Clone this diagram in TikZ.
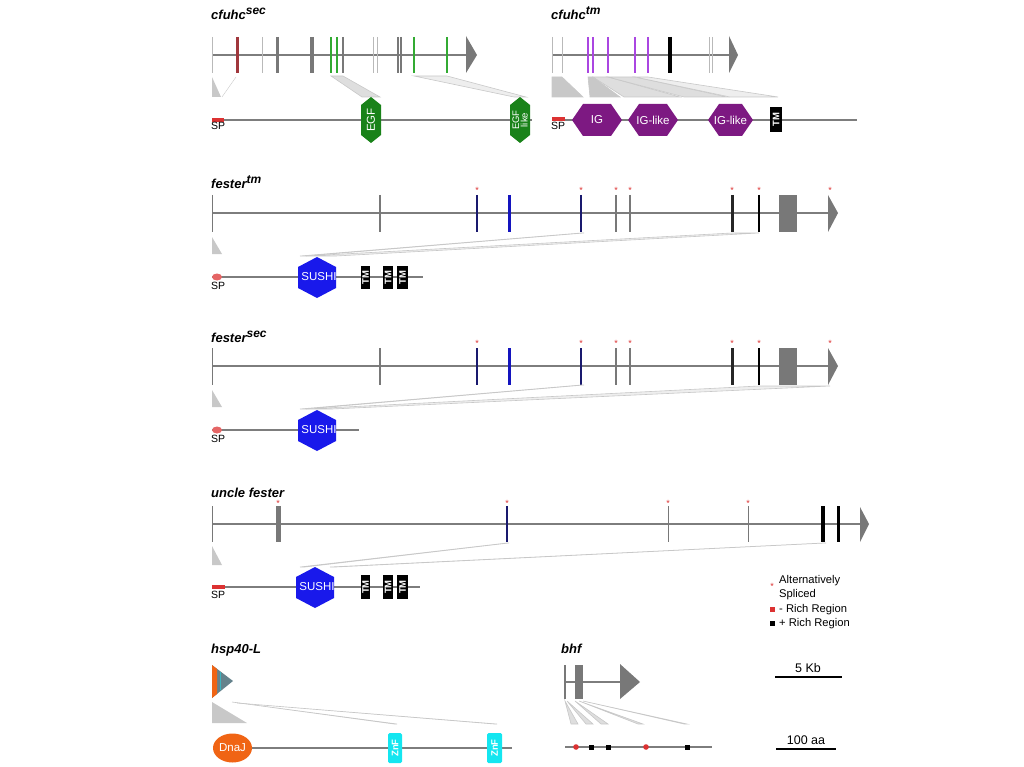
\documentclass[tikz,border=0pt]{standalone}
\usepackage{fontspec}
\setmainfont{Liberation Sans}
\usetikzlibrary{calc}

\definecolor{gline}{RGB}{125,125,125}
\definecolor{exgray}{RGB}{120,120,120}
\definecolor{exlight}{RGB}{185,185,185}
\definecolor{exred}{RGB}{160,55,60}
\definecolor{exgreen}{RGB}{50,170,50}
\definecolor{expurple}{RGB}{170,70,225}
\definecolor{exnavy}{RGB}{25,25,110}
\definecolor{exblue}{RGB}{20,20,190}
\definecolor{fangray}{RGB}{200,200,200}
\definecolor{egfgreen}{RGB}{25,130,25}
\definecolor{igpurple}{RGB}{125,25,130}
\definecolor{sushiblue}{RGB}{25,25,235}
\definecolor{dnajorange}{RGB}{240,100,20}
\definecolor{znfcyan}{RGB}{20,230,240}
\definecolor{spred}{RGB}{220,50,50}
\definecolor{hspslate}{RGB}{100,130,140}

\newcommand{\gsup}[1]{\raisebox{5pt}{\fontsize{12}{12}\selectfont #1}}

\begin{document}
\begin{tikzpicture}[x=1pt,y=-1pt,
  gene/.style={gline,line width=1.2pt},
  prot/.style={gline,line width=2.2pt},
  fan/.style={fill=fangray!60,draw=fangray,line width=0.6pt},
  genename/.style={font=\fontsize{13}{14}\bfseries\itshape\selectfont,anchor=base west,inner sep=0},
  spl/.style={font=\fontsize{10.5}{11}\selectfont,inner sep=0},
  dom/.style={font=\fontsize{11.5}{12}\selectfont,text=white,inner sep=0},
  tmtxt/.style={font=\fontsize{9.5}{10}\bfseries\selectfont,text=white,inner sep=0,rotate=90},
  alt/.style={font=\fontsize{9}{9}\selectfont,text=spred,inner sep=0},
  legtxt/.style={font=\fontsize{11.2}{12}\selectfont,anchor=west,inner sep=0},
  scaletxt/.style={font=\fontsize{12.5}{13}\selectfont,inner sep=0}]
\useasboundingbox (0,0) rectangle (1024,767);

% cfuhc sec
\node[genename] (csec) at (211,20) {cfuhc\gsup{sec}};
\draw[gene] (212,55) -- (466,55);
\foreach \x/\c/\w in {212/exlight/1, 237/exred/3, 262/exlight/1, 277/exgray/3, 312/exgray/4,
  331/exgreen/2, 337/exgreen/2, 343/exgray/2, 373/exlight/1, 377/exlight/1,
  398/exgray/2, 401/exgray/2, 414/exgreen/2, 447/exgreen/2}
  \draw[\c,line width=\w pt] (\x,37) -- (\x,73);
\fill[exgray] (466,36) -- (477,55) -- (466,73) -- cycle;
\fill[fangray] (212,77) -- (212,97) -- (221,97) -- cycle;
\draw[fangray] (236,77) -- (222,97);
\filldraw[fan] (331,76) -- (343,76) -- (380,97) -- (362,97) -- cycle;
\filldraw[fan,fill=fangray!30] (414,76) -- (447,76) -- (526,97) -- (514,97) -- cycle;
\draw[prot] (212,120) -- (532,120);
\fill[spred] (212,118) rectangle (224,122);
\node[spl] (spa) at (218,126) {SP};
\fill[egfgreen] (371,97) -- ++(10,8) -- ++(0,30) -- ++(-10,8) -- ++(-10,-8) -- ++(0,-30) -- cycle;
\node[dom,rotate=90] (egf) at (371,120) {EGF};
\fill[egfgreen] (520,97) -- ++(10,8) -- ++(0,30) -- ++(-10,8) -- ++(-10,-8) -- ++(0,-30) -- cycle;
\node[dom,rotate=90,align=center,font=\fontsize{9.5}{8.5}\selectfont] (egfl) at (520,120) {EGF\\like};

% cfuhc tm
\node[genename] (ctm) at (551,20) {cfuhc\gsup{tm}};
\draw[gene] (552,55) -- (729,55);
\foreach \x/\c/\w in {552/exlight/1, 562/exlight/1, 588/expurple/2, 593/expurple/2, 608/expurple/2.5,
  635/expurple/2, 648/expurple/2, 670/black/3.5, 709/exlight/1, 712/exlight/1}
  \draw[\c,line width=\w pt] (\x,37) -- (\x,73);
\fill[exgray] (729,36) -- (738,55) -- (729,73) -- cycle;
\filldraw[fan,fill=fangray] (552,77) -- (562,77) -- (583,97) -- (552,97) -- cycle;
\filldraw[fan,fill=fangray] (588,77) -- (593,77) -- (620,97) -- (590,97) -- cycle;
\filldraw[fan] (593,77) -- (608,77) -- (680,97) -- (624,97) -- cycle;
\filldraw[fan] (608,77) -- (635,77) -- (727,97) -- (684,97) -- cycle;
\filldraw[fan,fill=fangray!30] (635,77) -- (648,77) -- (778,97) -- (730,97) -- cycle;
\draw[prot] (552,120) -- (857,120);
\fill[spred] (552,117) rectangle (565,121);
\node[spl] (spb) at (558,126) {SP};
\foreach \l/\w in {572/50, 628/50, 708/45}
  \fill[igpurple] (\l,120) -- ++(11,-16) -- ++(\w-22,0) -- ++(11,16) -- ++(-11,16) -- ++(22-\w,0) -- cycle;
\node[dom] (ig) at (597,120) {IG};
\node[dom] (iglikea) at (653,120) {IG-like};
\node[dom] (iglikeb) at (730.5,120) {IG-like};
\fill[black] (770,107) rectangle (782,132);
\node[tmtxt] (tma) at (776,119.5) {TM};

% fester tm and fester sec gene models
\node[genename] (ftm) at (211,189) {fester\gsup{tm}};
\node[genename] (fsec) at (211,342) {fester\gsup{sec}};
\foreach \dy in {0,153} {
  \begin{scope}[shift={(0,\dy)}]
  \draw[gene] (212,213) -- (828,213);
  \foreach \x/\c/\w in {212/exgray/1, 380/exgray/1.5, 477/exnavy/2, 509/exblue/3, 581/exnavy/2,
    616/exgray/2, 630/exgray/2, 732/black!85/3, 759/black/2.5}
    \draw[\c,line width=\w pt] (\x,195) -- (\x,232);
  \fill[exgray] (779,195) rectangle (797,232);
  \fill[exgray] (828,195) -- (838,213) -- (828,232) -- cycle;
  \foreach \x in {477,581,616,630,732,759,830}
    \node[alt] (ast\dy-\x) at (\x,190) {*};
  \fill[fangray] (212,237) -- (212,254) -- (222,254) -- cycle;
  \end{scope}
}
\filldraw[fan] (300,256) -- (581,233) -- (584,233) -- (306,256) -- cycle;
\filldraw[fan,fill=fangray!30] (306,256) -- (732,233) -- (759,233) -- (336,256) -- cycle;
\draw[prot] (212,277) -- (423,277);
\fill[spred!75] (217,277) ellipse (5 and 3.5);
\node[spl] (spc) at (218,286) {SP};
\fill[sushiblue] (317,257) -- ++(19,10) -- ++(0,21) -- ++(-19,10) -- ++(-19,-10) -- ++(0,-21) -- cycle;
\node[dom] (sushia) at (319,277) {SUSHI};
\foreach \l/\r in {361/370, 383/393, 397/408} {
  \fill[black] (\l,266) rectangle (\r,289);
  \node[tmtxt] (tmb\l) at ({(\l+\r)/2},277.5) {TM};
}
\filldraw[fan] (300,409) -- (581,385) -- (584,385) -- (306,409) -- cycle;
\filldraw[fan,fill=fangray!30] (306,409) -- (759,386) -- (830,386) -- (332,409) -- cycle;
\draw[prot] (212,430) -- (359,430);
\fill[spred!75] (217,430) ellipse (5 and 3.5);
\node[spl] (spd) at (218,439) {SP};
\fill[sushiblue] (317,410) -- ++(19,10) -- ++(0,21) -- ++(-19,10) -- ++(-19,-10) -- ++(0,-21) -- cycle;
\node[dom] (sushib) at (319,430) {SUSHI};

% uncle fester
\node[genename] (unf) at (211,497) {uncle fester};
\draw[gene] (212,524) -- (860,524);
\foreach \x/\c/\w in {212/exgray/1, 278/exgray/5, 507/exnavy/2, 668/exgray/1, 748/exgray/1,
  823/black/4.5, 838/black/3}
  \draw[\c,line width=\w pt] (\x,506) -- (\x,542);
\fill[exgray] (860,507) -- (869,524) -- (860,542) -- cycle;
\foreach \x in {278,507,668,748}
  \node[alt] (astu\x) at (\x,503) {*};
\fill[fangray] (212,546) -- (212,565) -- (222,565) -- cycle;
\filldraw[fan] (300,567) -- (507,543) -- (509,543) -- (305,567) -- cycle;
\filldraw[fan] (330,567) -- (823,543) -- (826,543) -- (336,567) -- cycle;
\draw[prot] (212,587) -- (420,587);
\fill[spred] (212,585) rectangle (225,589);
\node[spl] (spe) at (218,595) {SP};
\fill[sushiblue] (315,567) -- ++(19,10) -- ++(0,21) -- ++(-19,10) -- ++(-19,-10) -- ++(0,-21) -- cycle;
\node[dom] (sushic) at (317,587) {SUSHI};
\foreach \l/\r in {361/370, 383/393, 397/408} {
  \fill[black] (\l,575) rectangle (\r,599);
  \node[tmtxt] (tmc\l) at ({(\l+\r)/2},587) {TM};
}

% legend
\node[alt] (legast) at (772,586) {*};
\node[legtxt] (legalt) at (779,581) {Alternatively};
\node[legtxt] (legspl) at (779,595) {Spliced};
\fill[spred] (770,607) rectangle (775,612);
\node[legtxt] (legneg) at (779,610) {- Rich Region};
\fill[black] (770,621) rectangle (775,626);
\node[legtxt] (legpos) at (779,624) {+ Rich Region};

% scale bars
\node[scaletxt] (kb) at (808,668) {5 Kb};
\draw[black,line width=1.5pt] (775,677) -- (842,677);
\node[scaletxt] (aa) at (806,740) {100 aa};
\draw[black,line width=1.5pt] (776,749) -- (836,749);

% hsp40-L
\node[genename] (hsp) at (211,653) {hsp40-L};
\fill[hspslate] (212,665) -- (233,681) -- (212,698) -- cycle;
\fill[dnajorange] (212,665) -- (217,669) -- (217,694) -- (212,698) -- cycle;
\draw[znfcyan!50!hspslate,line width=1pt] (220,672) -- (220,690);
\fill[fangray] (212,702) -- (212,723) -- (247,723) -- cycle;
\filldraw[fan] (232,702) -- (397,724) -- (394,724) -- cycle;
\filldraw[fan] (237,703) -- (497,724) -- (494,724) -- cycle;
\draw[prot] (252,748) -- (512,748);
\fill[dnajorange] (232.5,748) ellipse (19.5 and 14.5);
\node[dom] (dnaj) at (232.5,748) {DnaJ};
\fill[znfcyan,rounded corners=1.5pt] (388,733) rectangle (402,763);
\node[tmtxt] (znfa) at (395,748) {ZnF};
\fill[znfcyan,rounded corners=1.5pt] (487,733) rectangle (502,763);
\node[tmtxt] (znfb) at (494.5,748) {ZnF};

% bhf
\node[genename] (bhf) at (561,653) {bhf};
\draw[gene] (565,682) -- (620,682);
\draw[exgray,line width=1.5pt] (565,665) -- (565,699);
\fill[exgray] (575,665) rectangle (583,699);
\fill[exgray] (620,664) -- (640,682) -- (620,699) -- cycle;
\foreach \a/\b/\c in {565/578/571, 567/593/586, 575/608/601, 579/643/638, 583/687/684}
  \filldraw[fan] (\a,701) -- (\b,724) -- (\c,724) -- cycle;
\draw[prot] (565,747) -- (712,747);
\fill[spred] (576,747) circle (2.8);
\fill[spred] (646,747) circle (2.8);
\foreach \x in {591,608,687}
  \fill[black] (\x-2.5,744.5) rectangle ++(5,5);
\end{tikzpicture}
\end{document}
